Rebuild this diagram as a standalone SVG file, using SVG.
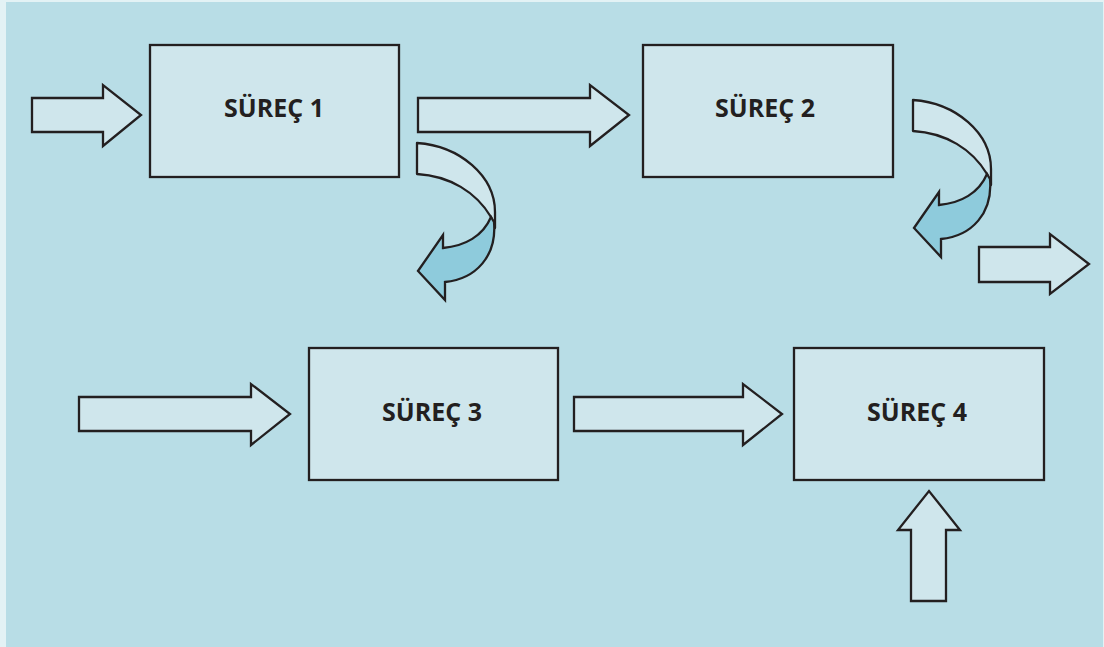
<svg xmlns="http://www.w3.org/2000/svg" xmlns:xlink="http://www.w3.org/1999/xlink" width="1104" height="647" viewBox="0 0 1104 647">
  <style>
    .box { fill: #cfe6ec; stroke: #231f20; stroke-width: 2.3; }
    .arr { fill: #cfe6ec; stroke: #231f20; stroke-width: 2.3; stroke-linejoin: miter; }
    .back { fill: #cfe6ec; stroke: #231f20; stroke-width: 2.3; stroke-linejoin: round; }
    .front { fill: #8ecbdc; stroke: #231f20; stroke-width: 2.3; stroke-linejoin: miter; }
    .lbl { font-family: "Open Sans", "Liberation Sans", sans-serif; font-weight: 700; font-size: 25px; fill: #231f20; text-anchor: middle; }
  </style>
  <defs>
    <g id="curved">
      <path class="back" d="M417,143 C460,146 495,176 495,212 L495,228 L491,217 C476,192 450,176 417,174 Z"/>
      <path class="front" d="M491,217 C483,236 465,246 443,248 L443,235 L418,271 L445,300 L445,282 C476,279 497,256 494,222 Z"/>
    </g>
  </defs>
  <rect x="0" y="0" width="1104" height="647" fill="#e3f2f5"/>
  <rect x="6" y="2" width="1097" height="645" fill="#b8dde6"/>

  <g id="connectors">
    <polygon class="arr" points="32,98 103,98 103,85 141,115 103,146 103,132 32,132"/>
    <polygon class="arr" points="418,98 590,98 590,85 629,115 590,146 590,132 418,132"/>
    <use xlink:href="#curved"/>
    <use xlink:href="#curved" transform="translate(496,-43)"/>
    <polygon class="arr" points="979,247 1050,247 1050,234 1089,264 1050,294 1050,282 979,282"/>
    <polygon class="arr" points="79,397 251,397 251,384 290,414 251,445 251,431 79,431"/>
    <polygon class="arr" points="574,397 743,397 743,384 782,414 743,445 743,431 574,431"/>
    <polygon class="arr" points="911,601 911,530 898,530 929,491 960,530 946,530 946,601"/>
  </g>

  <g id="node-surec1">
    <rect class="box" x="150" y="45" width="249" height="132"/>
    <text class="lbl" x="274" y="117">SÜREÇ 1</text>
  </g>
  <g id="node-surec2">
    <rect class="box" x="643" y="45" width="250" height="132"/>
    <text class="lbl" x="765" y="117">SÜREÇ 2</text>
  </g>
  <g id="node-surec3">
    <rect class="box" x="309" y="348" width="249" height="132"/>
    <text class="lbl" x="432" y="421">SÜREÇ 3</text>
  </g>
  <g id="node-surec4">
    <rect class="box" x="794" y="348" width="250" height="132"/>
    <text class="lbl" x="917" y="421">SÜREÇ 4</text>
  </g>
</svg>
